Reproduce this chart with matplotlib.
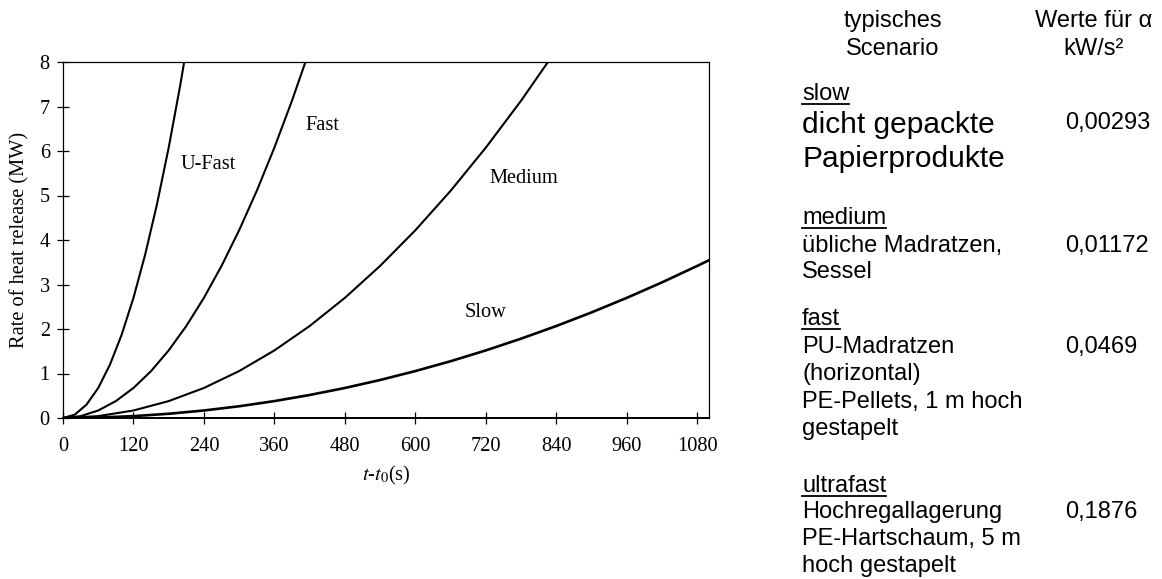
import matplotlib
matplotlib.use("Agg")
import matplotlib.pyplot as plt
from matplotlib.lines import Line2D

plt.rcParams["mathtext.fontset"] = "stix"

# Heat release rate of the t-squared design fires (MW over t - t0 in s)
t_slow = [0, 60, 120, 180, 240, 300, 360, 420, 480, 540, 600, 660, 720,
          780, 840, 900, 960, 1020, 1080, 1100]
q_slow = [0.0, 0.011, 0.042, 0.095, 0.169, 0.264, 0.380, 0.517, 0.675, 0.854,
          1.055, 1.276, 1.519, 1.783, 2.067, 2.373, 2.700, 3.048, 3.418, 3.545]

t_medium = [0, 60, 120, 180, 240, 300, 360, 420, 480, 540, 600, 660, 720, 780, 840]
q_medium = [0.0, 0.042, 0.169, 0.380, 0.675, 1.055, 1.519, 2.067, 2.700, 3.418,
            4.219, 5.105, 6.076, 7.130, 8.270]

t_fast = [0, 30, 60, 90, 120, 150, 180, 210, 240, 270, 300, 330, 360, 390, 420]
q_fast = [0.0, 0.042, 0.169, 0.380, 0.675, 1.055, 1.520, 2.068, 2.701, 3.419,
          4.221, 5.107, 6.078, 7.134, 8.273]

t_ufast = [0, 20, 40, 60, 80, 100, 120, 140, 160, 180, 200, 220]
q_ufast = [0.0, 0.075, 0.300, 0.675, 1.201, 1.876, 2.701, 3.677, 4.803, 6.078,
           7.504, 9.080]

curve_labels = ["U-Fast", "Fast", "Medium", "Slow"]
x_ticks = [0, 120, 240, 360, 480, 600, 720, 840, 960, 1080]
y_ticks = [0, 1, 2, 3, 4, 5, 6, 7, 8]

# Table of scenarios and growth coefficients
table_header = ["typisches\nScenario", "Werte für α\nkW/s²"]
class_names = ["slow", "medium", "fast", "ultrafast"]
class_examples = [
    "dicht gepackte\nPapierprodukte",
    "übliche Madratzen,\nSessel",
    "PU-Madratzen\n(horizontal)\nPE-Pellets, 1 m hoch\ngestapelt",
    "Hochregallagerung\nPE-Hartschaum, 5 m\nhoch gestapelt",
]
alpha_values = ["0,00293", "0,01172", "0,0469", "0,1876"]

W, H = 1162, 579
fig = plt.figure(figsize=(W / 100, H / 100), dpi=100)
fig.patch.set_facecolor("white")

serif = ["Liberation Serif", "DejaVu Serif"]
sans = ["Liberation Sans", "DejaVu Sans"]
cfs = 14.7

ax = fig.add_axes([63 / W, 1 - 418 / H, (709 - 63) / W, (418 - 62) / H])
ax.plot(t_ufast, q_ufast, color="black", lw=1.5)
ax.plot(t_fast, q_fast, color="black", lw=1.5)
ax.plot(t_medium, q_medium, color="black", lw=1.5)
ax.plot(t_slow, q_slow, color="black", lw=1.9)

ax.set_xlim(0, 1100)
ax.set_ylim(0, 8)
ax.set_xticks(x_ticks)
ax.set_yticks(y_ticks)
ax.tick_params(direction="inout", length=9, width=0.9, color="black",
               labelsize=cfs, labelfontfamily=serif)
ax.tick_params(axis="x", pad=9)
ax.tick_params(axis="y", pad=5)
for side in ["left", "right", "top"]:
    ax.spines[side].set_linewidth(0.9)
ax.spines["bottom"].set_linewidth(1.4)

ax.set_xlabel("$t$-$t_0$(s)", fontsize=cfs, family=serif, labelpad=6)
ax.set_ylabel("Rate of heat release (MW)", fontsize=cfs, family=serif, labelpad=7)

label_pos = [(247, 5.69), (441, 6.58), (784, 5.39), (719, 2.36)]
for name, (lx, ly) in zip(curve_labels, label_pos):
    ax.text(lx, ly, name, fontsize=cfs, family=serif, ha="center", va="center")

def fx(px):
    return px / W

def fy(py):
    return 1 - py / H

fs = 17
fig.text(fx(893), fy(27), "typisches", fontsize=fs, family=sans, ha="center", va="baseline")
fig.text(fx(893), fy(55), "Scenario", fontsize=fs, family=sans, ha="center", va="baseline")
fig.text(fx(1094), fy(27), "Werte für α", fontsize=fs, family=sans, ha="center", va="baseline")
fig.text(fx(1094), fy(55), "kW/s²", fontsize=fs, family=sans, ha="center", va="baseline")

left_x = 802
alpha_x = 1065
name_baselines = [100, 224, 325, 492]
first_lines = [133, 252, 353, 518]
line_steps = [34, 26.5, 27.3, 26.8]
example_sizes = [21.5, fs, fs, fs]

fig.canvas.draw()
renderer = fig.canvas.get_renderer()
for name, ex, a, nb, fb, step, es in zip(class_names, class_examples, alpha_values,
                                         name_baselines, first_lines, line_steps,
                                         example_sizes):
    t = fig.text(fx(left_x), fy(nb), name, fontsize=fs, family=sans, va="baseline")
    bb = t.get_window_extent(renderer)
    fig.add_artist(Line2D([fx(left_x), fx(left_x) + bb.width / W],
                          [fy(nb + 4), fy(nb + 4)], color="black", lw=1.3))
    for i, line in enumerate(ex.split("\n")):
        fig.text(fx(left_x), fy(fb + i * step), line, fontsize=es, family=sans,
                 va="baseline")
    a_base = fb - 4 if es > fs else fb
    fig.text(fx(alpha_x), fy(a_base), a, fontsize=fs, family=sans, va="baseline")

fig.savefig("out.png", dpi=100, facecolor="white")
